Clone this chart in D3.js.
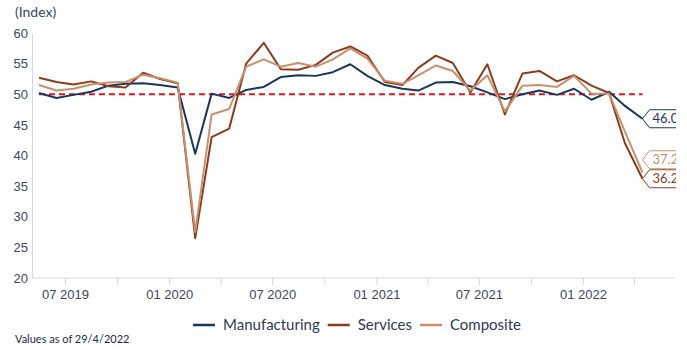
<!DOCTYPE html>
<html>
<head>
<meta charset="utf-8">
<script src="https://cdn.jsdelivr.net/npm/d3@7"></script>
<style>
  body { margin: 0; background: #fff; }
  svg { display: block; font-family: Lato, "Open Sans", sans-serif; }
</style>
</head>
<body>
<div id="chart"></div>
<script>
// Monthly readings, May 2019 .. Apr 2022
const months = [
  "2019-05", "2019-06", "2019-07", "2019-08", "2019-09", "2019-10", "2019-11", "2019-12",
  "2020-01", "2020-02", "2020-03", "2020-04", "2020-05", "2020-06", "2020-07", "2020-08",
  "2020-09", "2020-10", "2020-11", "2020-12", "2021-01", "2021-02", "2021-03", "2021-04",
  "2021-05", "2021-06", "2021-07", "2021-08", "2021-09", "2021-10", "2021-11", "2021-12",
  "2022-01", "2022-02", "2022-03", "2022-04"
];
const manufacturing = [
  50.2, 49.4, 49.9, 50.4, 51.4, 51.7, 51.8, 51.5, 51.1, 40.3, 50.1, 49.4,
  50.7, 51.2, 52.8, 53.1, 53.0, 53.6, 54.9, 53.0, 51.5, 50.9, 50.6, 51.9,
  52.0, 51.3, 50.3, 49.2, 50.0, 50.6, 49.9, 50.9, 49.1, 50.4, 48.1, 46.0
];
const services = [
  52.7, 52.0, 51.6, 52.1, 51.3, 51.1, 53.5, 52.5, 51.8, 26.5, 43.0, 44.4,
  55.0, 58.4, 54.1, 54.0, 54.8, 56.8, 57.8, 56.3, 52.0, 51.5, 54.3, 56.3,
  55.1, 50.3, 54.9, 46.7, 53.4, 53.8, 52.1, 53.1, 51.4, 50.2, 42.0, 36.2
];
const composite = [
  51.5, 50.6, 50.9, 51.6, 51.9, 52.0, 53.2, 52.6, 51.9, 27.5, 46.7, 47.6,
  54.5, 55.7, 54.5, 55.1, 54.5, 55.7, 57.5, 55.8, 52.2, 51.7, 53.1, 54.7,
  53.8, 50.6, 53.1, 47.2, 51.4, 51.5, 51.2, 53.0, 50.1, 50.1, 43.9, 37.2
];
const yTicks = [20, 25, 30, 35, 40, 45, 50, 55, 60];
const threshold = 50;

const seriesList = [
  { name: "Manufacturing", values: manufacturing, color: "#17375e" },
  { name: "Services", values: services, color: "#8e3b1d" },
  { name: "Composite", values: composite, color: "#c8916c" }
];

const width = 687, height = 350;
const plot = { left: 32, right: 675, top: 33, bottom: 278 };

const svg = d3.select("#chart").append("svg").attr("width", width).attr("height", height);

// the chart area clips the end-value callouts on the right
svg.append("clipPath").attr("id", "plot-clip")
  .append("rect")
  .attr("x", 0).attr("y", 0)
  .attr("width", plot.right + 1).attr("height", height);

const parseMonth = d3.timeParse("%Y-%m");
// points sit mid-month, ticks on the first of the month
const dates = months.map((m) => d3.timeDay.offset(parseMonth(m), 15));

const x = d3.scaleTime()
  .domain([new Date(2019, 6, 1), new Date(2022, 3, 1)])
  .range([65, 634]);
const y = d3.scaleLinear().domain([20, 60]).range([plot.bottom, plot.top]);

const textColor = "#3b4764";
const axisColor = "#d9d9d9";

// y axis
const yAxis = svg.append("g")
  .attr("transform", `translate(${plot.left},0)`)
  .call(d3.axisLeft(y).tickValues(yTicks).tickSize(0).tickPadding(4));
yAxis.select(".domain").attr("stroke", axisColor);
yAxis.selectAll("text").attr("fill", textColor).style("font-size", "13px");

// x axis
const xTickDates = d3.timeMonth.every(3).range(new Date(2019, 6, 1), new Date(2022, 3, 2));
const fmt = d3.timeFormat("%m %Y");
const xAxis = svg.append("g")
  .attr("transform", `translate(0,${plot.bottom})`)
  .call(d3.axisBottom(x).tickValues(xTickDates).tickSize(7).tickPadding(5)
    .tickFormat((d) => (d.getMonth() % 6 === 0 ? fmt(d) : "")));
xAxis.select(".domain").remove();
xAxis.selectAll(".tick line").attr("stroke", axisColor);
xAxis.selectAll("text").attr("fill", textColor).style("font-size", "13px");
svg.append("line")
  .attr("x1", plot.left).attr("x2", plot.right)
  .attr("y1", plot.bottom).attr("y2", plot.bottom)
  .attr("stroke", axisColor);

// 50 reference line
svg.append("line")
  .attr("x1", x(dates[0])).attr("x2", x(dates[dates.length - 1]))
  .attr("y1", y(threshold)).attr("y2", y(threshold))
  .attr("stroke", "#e3141b")
  .attr("stroke-width", 2)
  .attr("stroke-dasharray", "6,4");

const line = d3.line().x((d, i) => x(dates[i])).y((d) => y(d));

seriesList.forEach((s) => {
  svg.append("path")
    .datum(s.values)
    .attr("d", line)
    .attr("fill", "none")
    .attr("stroke", s.color)
    .attr("stroke-width", 2)
    .attr("stroke-linejoin", "round");
});

// end-value callouts, pushed apart when they collide
const lastX = x(dates[dates.length - 1]);
const callouts = seriesList
  .map((s) => ({ s, v: s.values[s.values.length - 1], cy: y(s.values[s.values.length - 1]) }))
  .sort((a, b) => b.cy - a.cy);
for (let i = 1; i < callouts.length; i++) {
  if (callouts[i - 1].cy - callouts[i].cy < 19) callouts[i].cy = callouts[i - 1].cy - 19;
}
const calloutLayer = svg.append("g").attr("clip-path", "url(#plot-clip)");
callouts.forEach((c) => {
  const h = 9;
  const g = calloutLayer.append("g").attr("transform", `translate(${lastX},${c.cy})`);
  g.append("path")
    .attr("d", `M0,0 L7,${-h} L70,${-h} L70,${h} L7,${h} Z`)
    .attr("fill", "#fff")
    .attr("stroke", c.s.color)
    .attr("stroke-width", 1);
  g.append("text")
    .attr("x", 10)
    .attr("dy", "0.36em")
    .attr("fill", c.s.color)
    .style("font-size", "13px")
    .text(d3.format(".1f")(c.v));
});

// "(Index)" unit
svg.append("text")
  .attr("x", 15).attr("y", 17)
  .attr("fill", textColor)
  .style("font-size", "14px")
  .text("(Index)");

// legend
const legend = svg.append("g").attr("transform", "translate(0,325)");
let lx = 0;
seriesList.forEach((s) => {
  legend.append("line")
    .attr("x1", lx).attr("x2", lx + 22)
    .attr("stroke", s.color).attr("stroke-width", 2.5);
  const t = legend.append("text")
    .attr("x", lx + 30).attr("dy", "0.35em")
    .attr("fill", "#2e3a58")
    .style("font-size", "15px")
    .text(s.name);
  lx += 30 + t.node().getComputedTextLength() + 8;
});
const legendWidth = lx - 8;
legend.attr("transform", `translate(${357 - legendWidth / 2},325)`);

// footnote
svg.append("text")
  .attr("x", 15).attr("y", 343)
  .attr("fill", "#1f2a44")
  .style("font-size", "11px")
  .text("Values as of 29/4/2022");
</script>
</body>
</html>
